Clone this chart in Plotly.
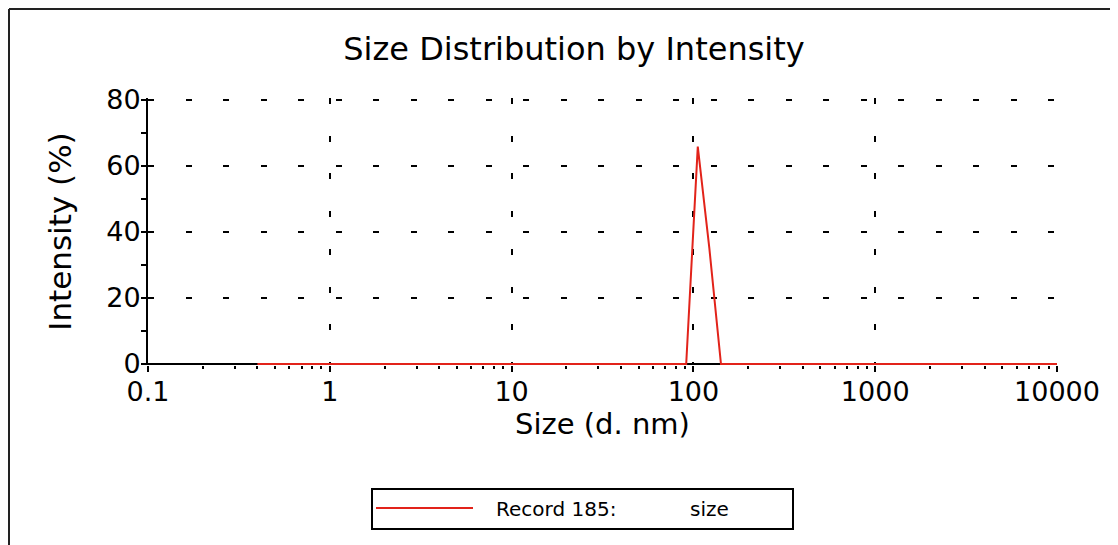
import plotly.graph_objects as go

# ---- data ----
size_nm = [0.4, 91.28, 105.7, 122.4, 141.8, 10000]
intensity_pct = [0.0, 0.0, 65.8, 35.0, 0.0, 0.0]
x_tick_vals = [0.1, 1, 10, 100, 1000, 10000]
x_tick_text = ["0.1", "1", "10", "100", "1000", "10000"]
y_tick_vals = [0, 20, 40, 60, 80]
y_tick_text = ["0", "20", "40", "60", "80"]
y_minor_vals = [10, 30, 50, 70]
legend_label = "Record 185:"
legend_field = "size"

x_minor_vals = [m * 10 ** e for e in range(-1, 4) for m in range(2, 10)]

RED = "#e2231a"
FONT = "DejaVu Sans"

# the page body has an 8px margin: work in reference-screen pixels, minus the offset
OFF = 8
W, H = 1118 - OFF, 545 - OFF
L, R, T, B = 148 - OFF, 1057 - OFF, 98 - OFF, 365 - OFF  # plot area in figure pixels
Y_RANGE = [-0.3, 80.5]


def px(x):
    return (x - OFF - L) / (R - L)


def py(y):
    return (B - (y - OFF)) / (B - T)


fig = go.Figure()
fig.add_trace(go.Scatter(
    x=size_nm, y=intensity_pct, mode="lines",
    line=dict(color=RED, width=2), name=legend_label + " " + legend_field,
    showlegend=False, hoverinfo="x+y",
))

fig.update_layout(
    width=W, height=H,
    margin=dict(l=L, r=W - R, t=T, b=H - B, pad=0),
    paper_bgcolor="white", plot_bgcolor="white",
    font=dict(family=FONT, color="black"),
    title=dict(text="Size Distribution by Intensity", x=(574 - OFF) / W, xanchor="center",
               xref="container", y=1 - (49 - OFF) / H, yref="container", yanchor="middle",
               font=dict(family=FONT, size=32, color="black")),
    xaxis=dict(
        type="log", range=[-1, 4], tickvals=x_tick_vals, ticktext=x_tick_text,
        tickfont=dict(family=FONT, size=27, color="black"),
        ticks="outside", ticklen=6, tickwidth=2, tickcolor="black",
        ticklabelstandoff=-3,
        minor=dict(ticks="outside", ticklen=3, tickwidth=2, tickcolor="black",
                   tickvals=x_minor_vals, showgrid=False),
        showgrid=True, gridcolor="black", gridwidth=2, griddash="6px,31.7px",
        showline=False, zeroline=False, layer="below traces",
        title=dict(text="Size (d. nm)", font=dict(family=FONT, size=29, color="black"),
                   standoff=0),
    ),
    xaxis2=dict(
        type="log", range=[-1, 4], tickvals=x_tick_vals, overlaying="x", anchor="y",
        side="bottom", matches="x", showticklabels=False,
        ticks="inside", ticklen=6, tickwidth=2, tickcolor="black",
        minor=dict(ticks="inside", ticklen=3, tickwidth=2, tickcolor="black",
                   tickvals=x_minor_vals, showgrid=False),
        showgrid=False, zeroline=False, showline=False, layer="below traces",
    ),
    yaxis=dict(
        range=Y_RANGE, tickvals=y_tick_vals, ticktext=y_tick_text,
        tickfont=dict(family=FONT, size=27, color="black"),
        ticks="outside", ticklen=5, tickwidth=2, tickcolor="black",
        ticklabelstandoff=-5,
        minor=dict(ticks="outside", ticklen=5, tickwidth=2, tickcolor="black",
                   tickvals=y_minor_vals, showgrid=False),
        showgrid=True, gridcolor="black", gridwidth=2, griddash="6px,31.5px",
        showline=True, linecolor="black", linewidth=2,
        zeroline=True, zerolinecolor="black", zerolinewidth=2,
        layer="below traces",
        title=dict(text="Intensity (%)", font=dict(family=FONT, size=31, color="black"),
                   standoff=25),
    ),
    yaxis2=dict(
        range=Y_RANGE, tickvals=y_tick_vals, overlaying="y", anchor="x",
        side="left", matches="y", showticklabels=False,
        ticks="inside", ticklen=4, tickwidth=2, tickcolor="black",
        minor=dict(ticks="inside", ticklen=4, tickwidth=2, tickcolor="black",
                   tickvals=y_minor_vals, showgrid=False),
        showgrid=False, zeroline=False, showline=False, layer="below traces",
    ),
)

# outer frame (top and left edges only, as in the reference crop)
fig.add_shape(type="line", xref="paper", yref="paper", x0=px(9), x1=px(1130),
              y0=py(9), y1=py(9), line=dict(color="#222", width=2))
fig.add_shape(type="line", xref="paper", yref="paper", x0=px(9), x1=px(9),
              y0=py(9), y1=py(560), line=dict(color="#222", width=2))

# legend box
fig.add_shape(type="rect", xref="paper", yref="paper", x0=px(372), x1=px(793),
              y0=py(529), y1=py(489), line=dict(color="black", width=2),
              fillcolor="white")
fig.add_shape(type="line", xref="paper", yref="paper", x0=px(376), x1=px(473),
              y0=py(508), y1=py(508), line=dict(color=RED, width=2))
fig.add_annotation(text=legend_label, xref="paper", yref="paper", x=px(494), y=py(509),
                   xanchor="left", yanchor="middle", showarrow=False,
                   font=dict(family=FONT, size=20, color="black"))
fig.add_annotation(text=legend_field, xref="paper", yref="paper", x=px(688), y=py(509),
                   xanchor="left", yanchor="middle", showarrow=False,
                   font=dict(family=FONT, size=20, color="black"))

fig.write_html("out.html")
